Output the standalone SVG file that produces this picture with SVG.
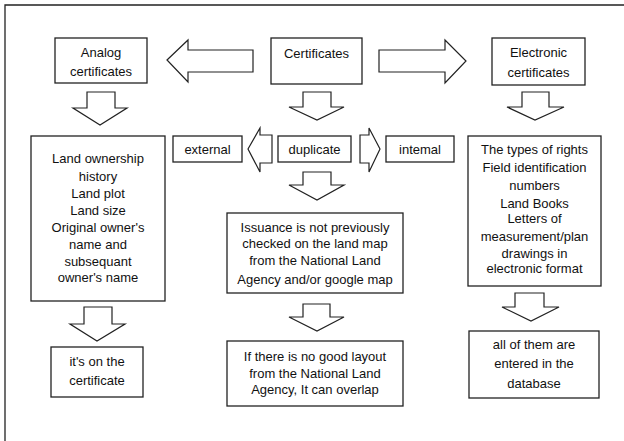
<svg xmlns="http://www.w3.org/2000/svg" width="624" height="441" viewBox="0 0 624 441">
<style>
.box{fill:#fff;stroke:#222;stroke-width:1.3}
.arr{fill:#fff;stroke:#222;stroke-width:1.2;stroke-linejoin:miter}
text{font-family:"Liberation Sans",Arial,sans-serif;font-size:13px;fill:#111;text-anchor:middle}
</style>
<rect width="624" height="441" fill="#fff"/>
<path d="M5,441 V5 H624" fill="none" stroke="#222" stroke-width="1.3"/>
<g id="connectors">
<polygon class="arr" points="167,60 188,40 188,50 253,50 253,72 188,72 188,82"/>
<polygon class="arr" points="379,50 445,50 445,40 466,61 445,83 445,72 379,72"/>
<polygon class="arr" points="87,92 115,92 115,108 127,108 100,125 73,108 87,108"/>
<polygon class="arr" points="303,92 331,92 331,107 344,107 317,120 289,107 303,107"/>
<polygon class="arr" points="522,92 549,92 549,107 564,107 535,120 507,107 522,107"/>
<polygon class="arr" points="248,149 260,128 260,135 272,135 272,163 260,163 260,172"/>
<polygon class="arr" points="360,135 369,135 369,128 380,149 369,172 369,163 360,163"/>
<polygon class="arr" points="303,172 331,172 331,185 344,185 317,200 289,185 303,185"/>
<polygon class="arr" points="303,304 330,304 330,317 344,317 317,331 289,317 303,317"/>
<polygon class="arr" points="84,307 112,307 112,324 125,324 97,341 70,324 84,324"/>
<polygon class="arr" points="515,293 544,293 544,307 559,307 531,321 502,307 515,307"/>
</g>
<g id="certificates">
<rect class="box" x="271" y="38" width="91" height="46"/>
<text x="316.5" y="57.5">Certificates</text>
</g>
<g id="analog">
<rect class="box" x="55" y="38" width="92" height="45"/>
<text x="101" y="56.5">Analog</text>
<text x="101" y="76">certificates</text>
</g>
<g id="electronic">
<rect class="box" x="492" y="38" width="93" height="47"/>
<text x="538.5" y="56.5">Electronic</text>
<text x="538.5" y="76.5">certificates</text>
</g>
<g id="external">
<rect class="box" x="173" y="136" width="69" height="26"/>
<text x="207.5" y="153.5">external</text>
</g>
<g id="duplicate">
<rect class="box" x="278" y="136" width="73" height="26"/>
<text x="314.5" y="153.5">duplicate</text>
</g>
<g id="internal">
<rect class="box" x="386" y="136" width="68" height="26"/>
<text x="420" y="153.5">intemal</text>
</g>
<g id="analog-details">
<rect class="box" x="31" y="136" width="134" height="165"/>
<text x="98" y="162.5">Land ownership</text>
<text x="98" y="180.5">history</text>
<text x="98" y="197.5">Land plot</text>
<text x="98" y="214.5">Land size</text>
<text x="98" y="231.5">Original owner's</text>
<text x="98" y="248.5">name and</text>
<text x="98" y="265.5">subsequant</text>
<text x="98" y="281.5">owner's name</text>
</g>
<g id="analog-result">
<rect class="box" x="51" y="347" width="92" height="50"/>
<text x="97" y="365.5">it's on the</text>
<text x="97" y="384.5">certificate</text>
</g>
<g id="issuance">
<rect class="box" x="227" y="213" width="176" height="80"/>
<text x="315" y="231.5">Issuance is not previously</text>
<text x="315" y="247.5">checked on the land map</text>
<text x="315" y="264.5">from the National Land</text>
<text x="315" y="283.5">Agency and/or google map</text>
</g>
<g id="overlap">
<rect class="box" x="227" y="341" width="176" height="65"/>
<text x="315" y="360.5">If there is no good layout</text>
<text x="315" y="377.5">from the National Land</text>
<text x="315" y="393.5">Agency, It can overlap</text>
</g>
<g id="electronic-details">
<rect class="box" x="468" y="136" width="133" height="150"/>
<text x="534.5" y="153.5">The types of rights</text>
<text x="534.5" y="171.5">Field identification</text>
<text x="534.5" y="189.5">numbers</text>
<text x="534.5" y="207.5">Land Books</text>
<text x="534.5" y="222.5">Letters of</text>
<text x="534.5" y="240.5">measurement/plan</text>
<text x="534.5" y="257.5">drawings in</text>
<text x="534.5" y="272.5">electronic format</text>
</g>
<g id="database">
<rect class="box" x="469" y="331" width="130" height="67"/>
<text x="534" y="348.5">all of them are</text>
<text x="534" y="367.5">entered in the</text>
<text x="534" y="387.5">database</text>
</g>
</svg>
